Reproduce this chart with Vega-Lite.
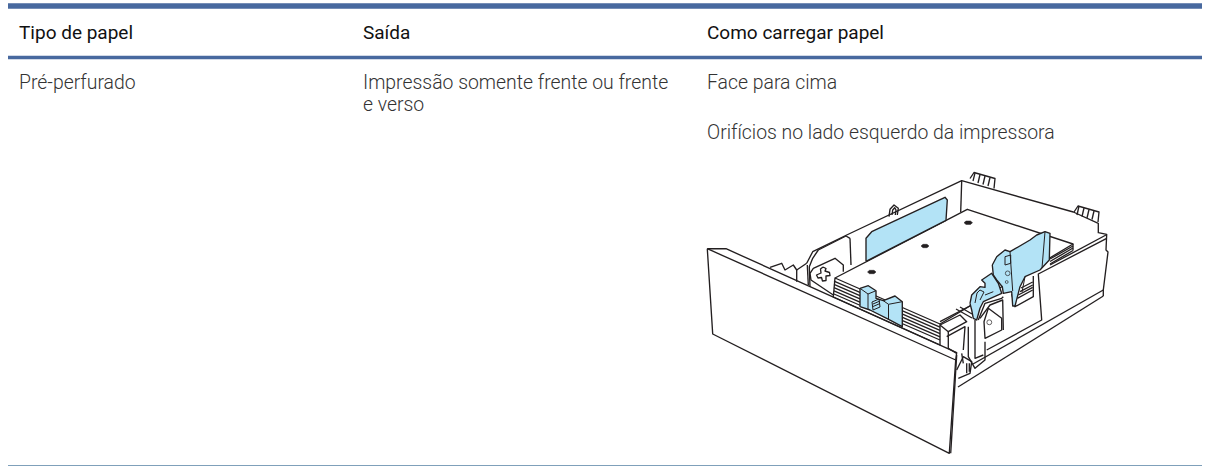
{"$schema":"https://vega.github.io/schema/vega-lite/v6.json","width":1210,"height":467,"autosize":{"type":"fit","contains":"padding"},"padding":0,"background":"white","view":{"stroke":null},
"config":{"axis":{"domain":false},"style":{"cell":{"stroke":null}}},
"datasets":{
"rules":[{"r":"top","x":8,"x2":1202,"y":6},{"r":"head","x":8,"x2":1202,"y":57.5},{"r":"bottom","x":8,"x2":1202,"y":465.5}],
"texts":[
{"kind":"head","x":19,"y":39,"t":"Tipo de papel"},{"kind":"head","x":363,"y":39,"t":"Saída"},{"kind":"head","x":707,"y":39,"t":"Como carregar papel"},
{"kind":"body","x":19,"y":89,"t":"Pré-perfurado"},{"kind":"body","x":363,"y":89,"t":"Impressão somente frente ou frente"},{"kind":"body","x":363,"y":111,"t":"e verso"},{"kind":"body","x":707,"y":89,"t":"Face para cima"},{"kind":"body","x":707,"y":139,"t":"Orifícios no lado esquerdo da impressora"}],
"base":[
{"p":"front","i":0,"x":707.3,"y":248.7},{"p":"front","i":1,"x":726,"y":248.7},{"p":"front","i":2,"x":956.7,"y":352.7},{"p":"front","i":3,"x":955.7,"y":360},{"p":"front","i":4,"x":949.3,"y":453.3},{"p":"front","i":5,"x":712.7,"y":334},{"p":"front","i":6,"x":707.3,"y":248.7},
{"p":"front2","i":0,"x":707.3,"y":248.7},{"p":"front2","i":1,"x":955.7,"y":360},
{"p":"front3","i":0,"x":956.7,"y":355},{"p":"front3","i":1,"x":950.7,"y":453.3},
{"p":"backtop","i":0,"x":806.7,"y":263.3},{"p":"backtop","i":1,"x":812.7,"y":251.7},{"p":"backtop","i":2,"x":846.7,"y":235},{"p":"backtop","i":3,"x":961.7,"y":180.7},{"p":"backtop","i":4,"x":1073.3,"y":212},{"p":"backtop","i":5,"x":1098.3,"y":223.3},{"p":"backtop","i":6,"x":1098.3,"y":232.7},{"p":"backtop","i":7,"x":1106.7,"y":234.3},{"p":"backtop","i":8,"x":1106,"y":250},{"p":"backtop","i":9,"x":1108,"y":252},{"p":"backtop","i":10,"x":1103.3,"y":290},{"p":"backtop","i":11,"x":1103.3,"y":296},
{"p":"corner","i":0,"x":961.7,"y":180.7},{"p":"corner","i":1,"x":960.7,"y":212},
{"p":"teeth","i":0,"x":770,"y":267.3},{"p":"teeth","i":1,"x":781.7,"y":263.3},{"p":"teeth","i":2,"x":785,"y":270},{"p":"teeth","i":3,"x":793.3,"y":265},{"p":"teeth","i":4,"x":796.7,"y":270},{"p":"teeth","i":5,"x":806.7,"y":263.3},
{"p":"t2","i":0,"x":796.7,"y":270},{"p":"t2","i":1,"x":796.7,"y":281.7},
{"p":"t3","i":0,"x":807.3,"y":265},{"p":"t3","i":1,"x":808.3,"y":285},
{"p":"br1","i":0,"x":850,"y":238.3},{"p":"br1","i":1,"x":851,"y":265},
{"p":"br2","i":0,"x":850,"y":238.3},{"p":"br2","i":1,"x":846,"y":236},{"p":"br2","i":2,"x":818.3,"y":250},{"p":"br2","i":3,"x":812.7,"y":258.3},{"p":"br2","i":4,"x":809.3,"y":266.7},{"p":"br2","i":5,"x":810,"y":286.7},
{"p":"oct","i":0,"x":843.3,"y":271.7},{"p":"oct","i":1,"x":843.3,"y":265},{"p":"oct","i":2,"x":835,"y":258.3},{"p":"oct","i":3,"x":813.3,"y":268.3},{"p":"oct","i":4,"x":810,"y":273.3},{"p":"oct","i":5,"x":811,"y":280},{"p":"oct","i":6,"x":833.3,"y":295},
{"p":"cross","i":0,"x":823,"y":267},{"p":"cross","i":1,"x":826,"y":268.5},{"p":"cross","i":2,"x":825,"y":271},{"p":"cross","i":3,"x":829.5,"y":272.5},{"p":"cross","i":4,"x":830,"y":275.5},{"p":"cross","i":5,"x":826,"y":276},{"p":"cross","i":6,"x":826,"y":280.5},{"p":"cross","i":7,"x":822.5,"y":281},{"p":"cross","i":8,"x":821.5,"y":277.5},{"p":"cross","i":9,"x":818,"y":278},{"p":"cross","i":10,"x":816.5,"y":275},{"p":"cross","i":11,"x":821,"y":273},{"p":"cross","i":12,"x":820.5,"y":269},{"p":"cross","i":13,"x":823,"y":267},
{"p":"peg","i":0,"x":889,"y":216.7},{"p":"peg","i":1,"x":890,"y":209.3},{"p":"peg","i":2,"x":894,"y":205},{"p":"peg","i":3,"x":898.3,"y":208.3},{"p":"peg","i":4,"x":897.3,"y":215},
{"p":"peg2","i":0,"x":892,"y":215},{"p":"peg2","i":1,"x":892.7,"y":210},{"p":"peg2","i":2,"x":894.7,"y":207.7},{"p":"peg2","i":3,"x":896,"y":210},{"p":"peg2","i":4,"x":895.3,"y":215},
{"p":"clipA","i":0,"x":970,"y":178.5},{"p":"clipA","i":1,"x":974,"y":172.5},{"p":"clipA","i":2,"x":995,"y":178.5},{"p":"clipA","i":3,"x":994,"y":188.5},
{"p":"clipA1","i":0,"x":975,"y":173},{"p":"clipA1","i":1,"x":973,"y":181},{"p":"clipA2","i":0,"x":980,"y":174.5},{"p":"clipA2","i":1,"x":978,"y":183},{"p":"clipA3","i":0,"x":985,"y":176},{"p":"clipA3","i":1,"x":983,"y":184.5},{"p":"clipA4","i":0,"x":990,"y":177.5},{"p":"clipA4","i":1,"x":988,"y":186},
{"p":"clipB","i":0,"x":1074,"y":212},{"p":"clipB","i":1,"x":1078,"y":206},{"p":"clipB","i":2,"x":1099,"y":212},{"p":"clipB","i":3,"x":1098,"y":222},
{"p":"clipB1","i":0,"x":1079,"y":206},{"p":"clipB1","i":1,"x":1077,"y":215},{"p":"clipB2","i":0,"x":1084,"y":208},{"p":"clipB2","i":1,"x":1082,"y":216.5},{"p":"clipB3","i":0,"x":1089,"y":209.5},{"p":"clipB3","i":1,"x":1087,"y":218},{"p":"clipB4","i":0,"x":1094,"y":211},{"p":"clipB4","i":1,"x":1092,"y":219.5},
{"p":"paper1","i":0,"x":835,"y":278},{"p":"paper1","i":1,"x":967.3,"y":209.3},{"p":"paper1","i":2,"x":1073,"y":244},{"p":"paper1","i":3,"x":940,"y":324},{"p":"paper1","i":4,"x":835,"y":278},{"p":"paper1","i":5,"x":833.3,"y":297},{"p":"paper1","i":6,"x":940,"y":345},{"p":"paper1","i":7,"x":940,"y":324},
{"p":"s1","i":0,"x":834,"y":281.2},{"p":"s1","i":1,"x":940,"y":327.2},{"p":"s2","i":0,"x":834,"y":284.4},{"p":"s2","i":1,"x":940,"y":330.4},{"p":"s3","i":0,"x":834,"y":287.6},{"p":"s3","i":1,"x":940,"y":333.6},{"p":"s4","i":0,"x":834,"y":290.8},{"p":"s4","i":1,"x":940,"y":336.8},{"p":"s5","i":0,"x":834,"y":294},{"p":"s5","i":1,"x":940,"y":340},
{"p":"r0","i":0,"x":1073,"y":244},{"p":"r0","i":1,"x":1073,"y":250.5},{"p":"r1","i":0,"x":1073,"y":246},{"p":"r1","i":1,"x":1050,"y":259},{"p":"r2","i":0,"x":1073,"y":248},{"p":"r2","i":1,"x":1050,"y":261.5},{"p":"r3","i":0,"x":1073,"y":250.5},{"p":"r3","i":1,"x":1050,"y":264},
{"p":"rim1","i":0,"x":1106,"y":235},{"p":"rim1","i":1,"x":1050,"y":265},
{"p":"rim2","i":0,"x":1106.7,"y":238.3},{"p":"rim2","i":1,"x":1038.3,"y":274},{"p":"rim2","i":2,"x":1041.7,"y":320},{"p":"rim2","i":3,"x":986.7,"y":350},
{"p":"low1","i":0,"x":1103.3,"y":290},{"p":"low1","i":1,"x":973,"y":364},
{"p":"low2","i":0,"x":1103.3,"y":296},{"p":"low2","i":1,"x":958,"y":387},
{"p":"win","i":0,"x":1011.7,"y":294},{"p":"win","i":1,"x":1015,"y":306.7},{"p":"win","i":2,"x":1033.3,"y":296.7},{"p":"win","i":3,"x":1033.3,"y":276},
{"p":"w1","i":0,"x":1020,"y":291.7},{"p":"w1","i":1,"x":1032.7,"y":285},{"p":"w2","i":0,"x":1018.3,"y":295},{"p":"w2","i":1,"x":1032.7,"y":287.3},{"p":"w3","i":0,"x":1017.3,"y":298.3},{"p":"w3","i":1,"x":1032.7,"y":290},{"p":"w4","i":0,"x":1021,"y":288},{"p":"w4","i":1,"x":1032.7,"y":282},
{"p":"fs1","i":0,"x":940,"y":321.7},{"p":"fs1","i":1,"x":971.7,"y":305},
{"p":"fs2","i":0,"x":940,"y":325},{"p":"fs2","i":1,"x":960,"y":315},{"p":"fs2","i":2,"x":966.7,"y":321.7},{"p":"fs2","i":3,"x":948.3,"y":331.7},{"p":"fs2","i":4,"x":940,"y":325},
{"p":"fs3","i":0,"x":948.3,"y":331.7},{"p":"fs3","i":1,"x":948.3,"y":348.3},{"p":"fs3","i":2,"x":956.7,"y":353.3},
{"p":"fs4","i":0,"x":946.7,"y":336.7},{"p":"fs4","i":1,"x":965,"y":326.7},{"p":"fs4","i":2,"x":963.3,"y":350},
{"p":"fs5","i":0,"x":956,"y":309},{"p":"fs5","i":1,"x":972,"y":318},{"p":"fs6","i":0,"x":960,"y":307},{"p":"fs6","i":1,"x":972,"y":314},
{"p":"la1","i":0,"x":956.7,"y":370},{"p":"la1","i":1,"x":963.3,"y":356.7},{"p":"la1","i":2,"x":971.7,"y":361.7},{"p":"la1","i":3,"x":970,"y":373.3},{"p":"la1","i":4,"x":958.3,"y":378.3},
{"p":"la2","i":0,"x":961.7,"y":353.3},{"p":"la2","i":1,"x":963.3,"y":363.3},{"p":"la3","i":0,"x":966.7,"y":363.3},{"p":"la3","i":1,"x":966.7,"y":373.3},{"p":"la4","i":0,"x":969.3,"y":363.3},{"p":"la4","i":1,"x":969.3,"y":371.7},
{"p":"door","i":0,"x":968.3,"y":326.7},{"p":"door","i":1,"x":968.3,"y":356.7},{"p":"door","i":2,"x":975,"y":368.3},{"p":"door","i":3,"x":985,"y":360},{"p":"door","i":4,"x":985,"y":341.7},
{"p":"door2","i":0,"x":975,"y":320},{"p":"door2","i":1,"x":975,"y":358.3},{"p":"door2","i":2,"x":983.3,"y":355},
{"p":"box","i":0,"x":988.3,"y":308.3},{"p":"box","i":1,"x":1001.7,"y":318.3},{"p":"box","i":2,"x":1001.7,"y":330},{"p":"box","i":3,"x":985,"y":338.3},{"p":"box","i":4,"x":984,"y":321.7},{"p":"box","i":5,"x":988.3,"y":308.3},
{"p":"wave","i":0,"x":978.3,"y":320},{"p":"wave","i":1,"x":985,"y":303.3},{"p":"wave","i":2,"x":1001.7,"y":298.3},{"p":"wave","i":3,"x":1003.3,"y":296.7},
{"p":"wave2","i":0,"x":980,"y":318.3},{"p":"wave2","i":1,"x":990,"y":305},{"p":"wave2","i":2,"x":1002.7,"y":300},{"p":"wave2","i":3,"x":1003.3,"y":330}],
"blue":[
{"p":"b1","i":0,"x":866,"y":261.3},{"p":"b1","i":1,"x":866,"y":238.3},{"p":"b1","i":2,"x":871.7,"y":231.7},{"p":"b1","i":3,"x":945,"y":197.3},{"p":"b1","i":4,"x":947.3,"y":200},{"p":"b1","i":5,"x":946,"y":220.3},{"p":"b1","i":6,"x":866,"y":261.3},
{"p":"b2","i":0,"x":860,"y":288.3},{"p":"b2","i":1,"x":868.3,"y":285.7},{"p":"b2","i":2,"x":876,"y":290.7},{"p":"b2","i":3,"x":876,"y":298.3},{"p":"b2","i":4,"x":883.3,"y":300.7},{"p":"b2","i":5,"x":895,"y":296},{"p":"b2","i":6,"x":902.3,"y":301.7},{"p":"b2","i":7,"x":902.3,"y":326.7},{"p":"b2","i":8,"x":886.7,"y":318.3},{"p":"b2","i":9,"x":870,"y":310},{"p":"b2","i":10,"x":860,"y":306.7},{"p":"b2","i":11,"x":860,"y":288.3},
{"p":"b3","i":0,"x":992.3,"y":265},{"p":"b3","i":1,"x":996.7,"y":256.7},{"p":"b3","i":2,"x":1005,"y":250},{"p":"b3","i":3,"x":1010,"y":251.7},{"p":"b3","i":4,"x":1030,"y":240},{"p":"b3","i":5,"x":1036.7,"y":235},{"p":"b3","i":6,"x":1045,"y":231.7},{"p":"b3","i":7,"x":1050,"y":233.3},{"p":"b3","i":8,"x":1049.3,"y":260},{"p":"b3","i":9,"x":1040,"y":270},{"p":"b3","i":10,"x":1025,"y":276.7},{"p":"b3","i":11,"x":1020,"y":286.7},{"p":"b3","i":12,"x":1015,"y":306},{"p":"b3","i":13,"x":1012.7,"y":306},{"p":"b3","i":14,"x":1011.7,"y":291.7},{"p":"b3","i":15,"x":1003.3,"y":293.3},{"p":"b3","i":16,"x":1002.3,"y":286.7},{"p":"b3","i":17,"x":996.7,"y":280},{"p":"b3","i":18,"x":993.3,"y":275},{"p":"b3","i":19,"x":992.3,"y":265},
{"p":"b4","i":0,"x":970,"y":303.3},{"p":"b4","i":1,"x":971.7,"y":295},{"p":"b4","i":2,"x":980,"y":286.7},{"p":"b4","i":3,"x":985,"y":287.3},{"p":"b4","i":4,"x":985,"y":283.3},{"p":"b4","i":5,"x":981.7,"y":280},{"p":"b4","i":6,"x":991.7,"y":273.3},{"p":"b4","i":7,"x":998.3,"y":283.3},{"p":"b4","i":8,"x":1001.7,"y":293.3},{"p":"b4","i":9,"x":983.3,"y":301.7},{"p":"b4","i":10,"x":980,"y":308.3},{"p":"b4","i":11,"x":976.7,"y":320},{"p":"b4","i":12,"x":973.3,"y":318.3},{"p":"b4","i":13,"x":971.7,"y":310},{"p":"b4","i":14,"x":970,"y":303.3}],
"detail":[
{"p":"d1","i":0,"x":860,"y":288.3},{"p":"d1","i":1,"x":868,"y":294},{"p":"d1","i":2,"x":876,"y":290.7},
{"p":"d2","i":0,"x":868,"y":294},{"p":"d2","i":1,"x":868,"y":309},
{"p":"d3","i":0,"x":872,"y":302},{"p":"d3","i":1,"x":879,"y":299},{"p":"d3","i":2,"x":880,"y":307},{"p":"d3","i":3,"x":873,"y":310},{"p":"d3","i":4,"x":872,"y":302},
{"p":"d4","i":0,"x":883.3,"y":300.7},{"p":"d4","i":1,"x":888.5,"y":304.3},{"p":"d4","i":2,"x":888.5,"y":319},
{"p":"d5","i":0,"x":888.5,"y":304.3},{"p":"d5","i":1,"x":902.3,"y":301.7},
{"p":"d6","i":0,"x":873,"y":304},{"p":"d6","i":1,"x":880,"y":301},{"p":"d7","i":0,"x":873,"y":306.5},{"p":"d7","i":1,"x":880,"y":303.5},
{"p":"d8","i":0,"x":1045,"y":231.7},{"p":"d8","i":1,"x":1042,"y":268},
{"p":"d9","i":0,"x":1010,"y":251.7},{"p":"d9","i":1,"x":1012.7,"y":291},
{"p":"d10","i":0,"x":1005,"y":256.7},{"p":"d10","i":1,"x":1010.7,"y":255},{"p":"d10","i":2,"x":1010.7,"y":263.3},{"p":"d10","i":3,"x":1005,"y":265},{"p":"d10","i":4,"x":1005,"y":256.7},
{"p":"d11","i":0,"x":975,"y":303},{"p":"d11","i":1,"x":977,"y":293},{"p":"d11","i":2,"x":980,"y":290},{"p":"d11","i":3,"x":984,"y":292},{"p":"d11","i":4,"x":980,"y":300},
{"p":"d12","i":0,"x":985,"y":295},{"p":"d12","i":1,"x":993.3,"y":291.7},
{"p":"d13","i":0,"x":1025,"y":276.7},{"p":"d13","i":1,"x":1022,"y":292}],
"holes":[
{"p":"h1","i":0,"x":964,"y":222.7},{"p":"h1","i":1,"x":966,"y":221},{"p":"h1","i":2,"x":970.5,"y":221},{"p":"h1","i":3,"x":972.5,"y":222.7},{"p":"h1","i":4,"x":970.5,"y":224.4},{"p":"h1","i":5,"x":966,"y":224.4},{"p":"h1","i":6,"x":964,"y":222.7},
{"p":"h2","i":0,"x":921,"y":246},{"p":"h2","i":1,"x":923,"y":244.3},{"p":"h2","i":2,"x":927,"y":244.3},{"p":"h2","i":3,"x":929,"y":246},{"p":"h2","i":4,"x":927,"y":247.7},{"p":"h2","i":5,"x":923,"y":247.7},{"p":"h2","i":6,"x":921,"y":246},
{"p":"h3","i":0,"x":867.5,"y":272},{"p":"h3","i":1,"x":869.5,"y":270.3},{"p":"h3","i":2,"x":874,"y":270.3},{"p":"h3","i":3,"x":876,"y":272},{"p":"h3","i":4,"x":874,"y":273.7},{"p":"h3","i":5,"x":869.5,"y":273.7},{"p":"h3","i":6,"x":867.5,"y":272}],
"rings":[{"x":1007.7,"y":273.3,"s":22},{"x":1006.7,"y":282,"s":8},{"x":989.3,"y":322.3,"s":24}]
},
"layer":[
{"data":{"name":"rules"},"transform":[{"filter":"datum.r==='top'"}],"mark":{"type":"rule","stroke":"#48699f","strokeWidth":5.5},"encoding":{"x":{"field":"x","type":"quantitative","scale":{"domain":[0,1210],"nice":false,"zero":false},"axis":null},"x2":{"field":"x2"},"y":{"field":"y","type":"quantitative","scale":{"domain":[467,0],"nice":false,"zero":false},"axis":null}}},
{"data":{"name":"rules"},"transform":[{"filter":"datum.r==='head'"}],"mark":{"type":"rule","stroke":"#48699f","strokeWidth":3.5},"encoding":{"x":{"field":"x","type":"quantitative"},"x2":{"field":"x2"},"y":{"field":"y","type":"quantitative"}}},
{"data":{"name":"rules"},"transform":[{"filter":"datum.r==='bottom'"}],"mark":{"type":"rule","stroke":"#7fa0ba","strokeWidth":1},"encoding":{"x":{"field":"x","type":"quantitative"},"x2":{"field":"x2"},"y":{"field":"y","type":"quantitative"}}},
{"data":{"name":"texts"},"transform":[{"filter":"datum.kind==='head'"}],"mark":{"type":"text","align":"left","baseline":"alphabetic","font":"Roboto","fontSize":19,"fontWeight":400,"fill":"#111111"},"encoding":{"x":{"field":"x","type":"quantitative"},"y":{"field":"y","type":"quantitative"},"text":{"field":"t"}}},
{"data":{"name":"texts"},"transform":[{"filter":"datum.kind==='body'"}],"mark":{"type":"text","align":"left","baseline":"alphabetic","font":"Roboto","fontSize":19.4,"fontWeight":300,"fill":"#333333"},"encoding":{"x":{"field":"x","type":"quantitative"},"y":{"field":"y","type":"quantitative"},"text":{"field":"t"}}},
{"data":{"name":"base"},"mark":{"type":"line","stroke":"#231f20","strokeWidth":1.35,"strokeJoin":"round"},"encoding":{"x":{"field":"x","type":"quantitative"},"y":{"field":"y","type":"quantitative"},"detail":{"field":"p"},"order":{"field":"i"}}},
{"data":{"name":"blue"},"mark":{"type":"line","stroke":"#231f20","fill":"#b3e3f6","strokeWidth":1.35,"strokeJoin":"round"},"encoding":{"x":{"field":"x","type":"quantitative"},"y":{"field":"y","type":"quantitative"},"detail":{"field":"p"},"order":{"field":"i"}}},
{"data":{"name":"detail"},"mark":{"type":"line","stroke":"#231f20","strokeWidth":1,"strokeJoin":"round"},"encoding":{"x":{"field":"x","type":"quantitative"},"y":{"field":"y","type":"quantitative"},"detail":{"field":"p"},"order":{"field":"i"}}},
{"data":{"name":"holes"},"mark":{"type":"line","stroke":"#231f20","fill":"#231f20","strokeWidth":0.5},"encoding":{"x":{"field":"x","type":"quantitative"},"y":{"field":"y","type":"quantitative"},"detail":{"field":"p"},"order":{"field":"i"}}},
{"data":{"name":"rings"},"mark":{"type":"point","shape":"circle","stroke":"#231f20","strokeWidth":1,"filled":false},"encoding":{"x":{"field":"x","type":"quantitative"},"y":{"field":"y","type":"quantitative"},"size":{"field":"s","type":"quantitative","scale":null}}}
]}
